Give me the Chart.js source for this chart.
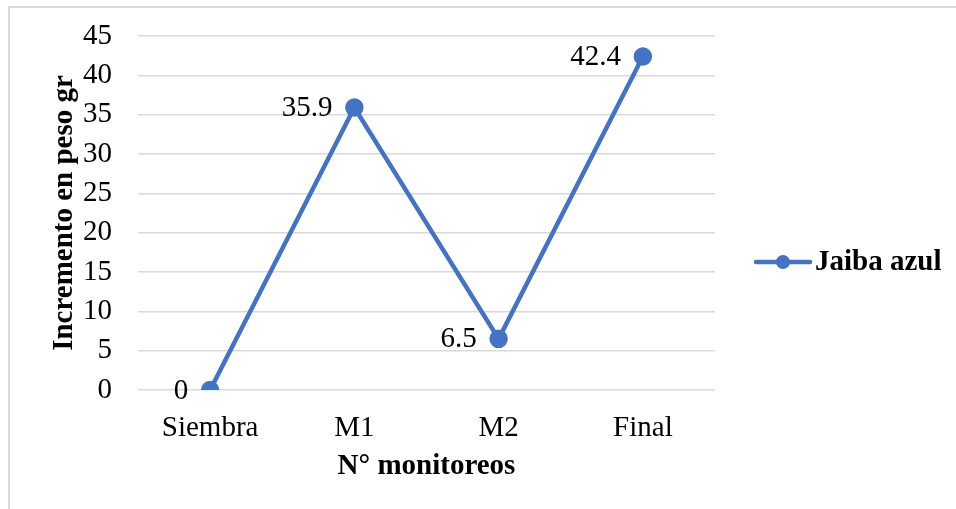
<!DOCTYPE html>
<html>
<head>
<meta charset="utf-8">
<script src="https://cdn.jsdelivr.net/npm/chart.js@4/dist/chart.umd.min.js"></script>
<style>
  html, body { margin: 0; padding: 0; background: #fff; }
  #wrap { position: relative; width: 956px; height: 509px; overflow: hidden; }
  #frame { position: absolute; left: 8px; top: 6px; width: 960px; height: 520px;
           border-left: 2px solid #d9d9d9; border-top: 2px solid #d9d9d9; box-sizing: border-box; }
  canvas { position: absolute; left: 0; top: 0; }
</style>
</head>
<body>
<div id="wrap">
  <div id="frame"></div>
  <canvas id="pesoChart" width="956" height="509"></canvas>
</div>
<script>
// monitoreos y peso
const categorias = ["Siembra", "M1", "M2", "Final"];
const incremento = [0, 35.9, 6.5, 42.4];
const serieNombre = "Jaiba azul";
const yMax = 45;
const yPaso = 5;

const AZUL = "#4472C4";
const SERIF = "'Liberation Serif', 'Times New Roman', serif";
const FS = 29;

// etiquetas de valor a la izquierda de cada punto
const valueLabels = {
  id: "valueLabels",
  afterDatasetsDraw(chart) {
    const ctx = chart.ctx;
    const meta = chart.getDatasetMeta(0);
    ctx.save();
    ctx.font = FS + "px " + SERIF;
    ctx.fillStyle = "#000";
    ctx.textAlign = "right";
    ctx.textBaseline = "middle";
    meta.data.forEach(function(pt, i) {
      ctx.fillText(String(chart.data.datasets[0].data[i]), pt.x - 22, pt.y + 1);
    });
    ctx.restore();
  },
};

// leyenda a la derecha con linea y marcador
const sideLegend = {
  id: "sideLegend",
  afterDraw(chart) {
    const ctx = chart.ctx;
    const ds = chart.data.datasets[0];
    const x0 = chart.chartArea.right + 41;
    const y = 262;
    ctx.save();
    ctx.strokeStyle = ds.borderColor;
    ctx.lineWidth = ds.borderWidth;
    ctx.lineCap = "round";
    ctx.beginPath();
    ctx.moveTo(x0, y);
    ctx.lineTo(x0 + 54, y);
    ctx.stroke();
    ctx.fillStyle = ds.pointBackgroundColor;
    ctx.beginPath();
    ctx.arc(x0 + 27, y, 7, 0, Math.PI * 2);
    ctx.fill();
    ctx.font = "bold " + FS + "px " + SERIF;
    ctx.fillStyle = "#000";
    ctx.textAlign = "left";
    ctx.textBaseline = "middle";
    ctx.fillText(ds.label, x0 + 59, y + 1);
    ctx.restore();
  },
};

new Chart(document.getElementById("pesoChart"), {
  type: "line",
  data: {
    labels: categorias,
    datasets: [{
      label: serieNombre,
      data: incremento,
      borderColor: AZUL,
      backgroundColor: AZUL,
      pointBackgroundColor: AZUL,
      pointBorderColor: AZUL,
      borderWidth: 4.5,
      pointRadius: 7,
      pointHoverRadius: 7,
      tension: 0,
    }],
  },
  options: {
    responsive: false,
    animation: false,
    layout: { padding: { left: 0, right: 241, top: 36, bottom: 0 } },
    plugins: { legend: { display: false }, tooltip: { enabled: false } },
    scales: {
      x: {
        offset: true,
        grid: { display: false, drawTicks: false },
        border: { display: false },
        ticks: { font: { family: SERIF, size: FS }, color: "#000", padding: 21 },
        title: {
          display: true,
          text: "N° monitoreos",
          font: { family: SERIF, size: FS, weight: "bold" },
          color: "#000",
          padding: { top: 0, bottom: 25 },
        },
        afterFit(scale) { scale.height = 119; },
      },
      y: {
        min: 0,
        max: yMax,
        grid: { color: "#d9d9d9", lineWidth: 1.5, drawTicks: false },
        border: { display: false },
        ticks: { stepSize: yPaso, font: { family: SERIF, size: FS }, color: "#000", padding: 26 },
        title: {
          display: true,
          text: "Incremento en peso gr",
          font: { family: SERIF, size: FS, weight: "bold" },
          color: "#000",
          padding: { top: 47, bottom: 0 },
        },
        afterFit(scale) {
          scale.width = 138;
          scale.paddingTop = 0;
          scale.paddingBottom = 0;
        },
      },
    },
  },
  plugins: [valueLabels, sideLegend],
});
</script>
</body>
</html>
